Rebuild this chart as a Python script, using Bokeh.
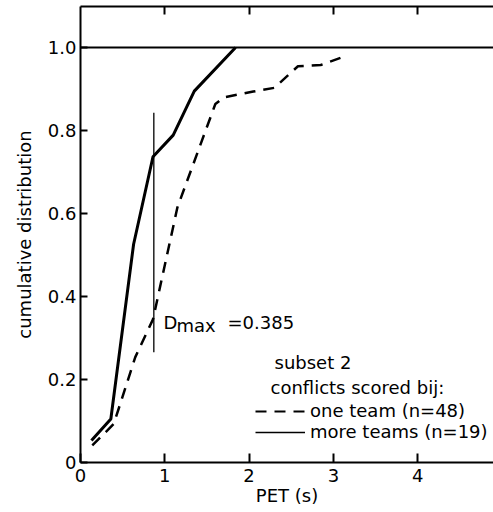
import math
from bokeh.plotting import figure
from bokeh.models import (Span, Label, Legend, LegendItem, LinearAxis, FixedTicker,
                          ColumnDataSource, Range1d, Title, PrintfTickFormatter)
from bokeh.embed import file_html
from bokeh.resources import INLINE

# ---- data ----
more_x = [0.13, 0.36, 0.63, 0.86, 1.10, 1.35, 1.84]
more_y = [0.053, 0.105, 0.526, 0.737, 0.789, 0.895, 1.0]

one_x = [0.14, 0.395, 0.65, 0.86, 1.15, 1.60, 1.70, 2.05, 2.30, 2.58, 2.85, 3.15]
one_y = [0.041, 0.093, 0.254, 0.345, 0.615, 0.864, 0.880, 0.894, 0.903, 0.955, 0.958, 0.980]

dmax_x = [0.87]
dmax_y0 = [0.266]
dmax_y1 = [0.843]
dmax_text = "0.385"

x_ticks = [0, 1, 2, 3, 4]
y_ticks = [0, 0.2, 0.4, 0.6, 0.8, 1.0]

FONT = "DejaVu Sans"
FS = "18px"

p = figure(width=493, height=512, output_backend="svg", toolbar_location=None,
           x_range=Range1d(0, 4.90), y_range=Range1d(0, 1.099),
           min_border_left=80, min_border_right=0, min_border_top=6,
           min_border_bottom=50, background_fill_color="white",
           border_fill_color="white")
p.outline_line_color = None
p.xgrid.visible = False
p.ygrid.visible = False

for ax in (p.xaxis[0], p.yaxis[0]):
    ax.axis_line_width = 2
    ax.axis_line_color = "black"
    ax.major_tick_line_color = "black"
    ax.major_tick_line_width = 2
    ax.major_tick_out = 0
    ax.minor_tick_line_color = None
    ax.major_label_text_font = FONT
    ax.major_label_text_font_size = FS
    ax.major_label_text_color = "black"

p.xaxis.ticker = FixedTicker(ticks=x_ticks)
p.xaxis.major_tick_in = 9
p.xaxis.major_label_standoff = 6
p.xaxis.axis_label = "PET (s)"
p.xaxis.axis_label_text_font = FONT
p.xaxis.axis_label_text_font_size = FS
p.xaxis.axis_label_text_font_style = "normal"
p.xaxis.axis_label_text_color = "black"
p.xaxis.axis_label_standoff = 0

p.yaxis.ticker = FixedTicker(ticks=y_ticks)
p.yaxis.formatter = PrintfTickFormatter(format="%.1f")
p.yaxis.major_tick_in = 7
p.yaxis.major_label_standoff = 4
p.yaxis.major_label_overrides = {0: "0"}

top = LinearAxis(ticker=FixedTicker(ticks=x_ticks[1:]), axis_line_width=2,
                 axis_line_color="black", major_tick_in=8, major_tick_out=0,
                 major_tick_line_width=2, major_tick_line_color="black",
                 minor_tick_line_color=None, major_label_text_font_size="1px",
                 major_label_overrides={t: "" for t in x_ticks[1:]},
                 major_label_standoff=0)
p.add_layout(top, "above")

ytitle = Title(text="cumulative distribution", align="center", offset=70,
               text_font=FONT, text_font_size=FS, text_font_style="normal",
               text_color="black", standoff=20)
p.add_layout(ytitle, "left")

p.add_layout(Span(location=1.0, dimension="width", line_color="black", line_width=2))

p.line(more_x, more_y, line_color="black", line_width=3)
p.line(one_x, one_y, line_color="black", line_width=2.5, line_dash="11 8")
p.segment(x0=dmax_x, y0=dmax_y0, x1=dmax_x, y1=dmax_y1, line_color="black", line_width=1.3)

# legend proxies (one invisible NaN point each, so only the legend sample shows)
nan = float("nan")
r_one = p.line("x", "y", source=ColumnDataSource(dict(x=[nan], y=[nan])),
               line_color="black", line_width=2, line_dash="11 8")
r_more = p.line("x", "y", source=ColumnDataSource(dict(x=[nan], y=[nan])),
                line_color="black", line_width=1.5)
legend = Legend(items=[LegendItem(label="one team (n=48)", renderers=[r_one]),
                       LegendItem(label="more teams (n=19)", renderers=[r_more])],
                location=(175, 20), glyph_width=50, glyph_height=20, label_height=20,
                label_standoff=5, spacing=0, padding=0, margin=0,
                border_line_color=None, background_fill_alpha=0,
                label_text_font=FONT, label_text_font_size=FS,
                label_text_color="black", label_text_baseline="middle")
p.add_layout(legend)

def lab(x, y, text, **kw):
    opts = dict(x_units="screen", y_units="screen", text_font=FONT,
                text_font_size=FS, text_color="black")
    opts.update(kw)
    p.add_layout(Label(x=x, y=y, text=text, **opts))

lab(194, 100, "subset 2", text_baseline="middle")
lab(190, 75, "conflicts scored bij:", text_baseline="middle")
lab(83, 140, "D", text_baseline="alphabetic")
lab(96, 137, "max", text_baseline="alphabetic")
lab(147, 140, "=" + dmax_text, text_baseline="alphabetic")

open("out.html", "w").write(file_html(p, INLINE))
